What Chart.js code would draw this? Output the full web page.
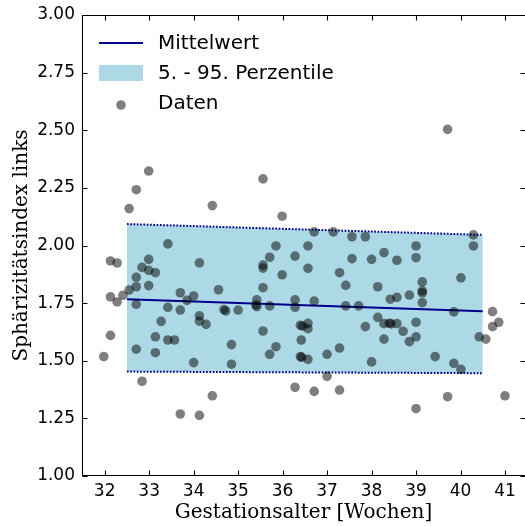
<!DOCTYPE html>
<html>
<head>
<meta charset="utf-8">
<script src="https://cdn.jsdelivr.net/npm/chart.js@4"></script>
<style>
  body { margin: 0; background: #fff; }
  canvas { display: block; }
</style>
</head>
<body>
<canvas id="sphericityChart" width="525" height="526"></canvas>
<script>
// Data
const gestationWeeks = [
    32.99, 32.71, 32.55, 34.42, 33.42, 32.13, 32.28, 32.99, 32.84, 32.99,
    33.14, 34.13, 32.71, 32.71, 32.99, 32.55, 32.41, 32.13, 32.28, 32.71,
    33.70, 33.85, 34.00, 34.56, 33.42, 33.70, 34.13, 34.13, 34.28, 34.68,
    34.72, 33.27, 32.13, 33.14, 33.42, 33.57, 32.71, 33.14, 31.98, 34.00,
    34.85, 34.85, 32.84, 34.42, 33.70, 34.13,
    35.56, 35.99, 36.71, 37.14, 37.56, 37.86, 35.85, 36.57, 35.71, 36.28,
    37.56, 38.00, 35.56, 35.56, 36.57, 35.99, 37.28, 37.42, 35.56, 35.42,
    35.42, 35.40, 35.71, 36.28, 36.28, 36.71, 37.42, 37.71, 35.00, 35.56,
    36.40, 36.45, 36.57, 36.57, 36.42, 37.86, 35.85, 35.71, 37.28, 37.00,
    36.40, 36.43, 36.57, 37.00, 36.28, 36.71, 37.28, 38.00,
    39.71, 40.29, 40.29, 39.00, 39.00, 38.28, 38.57, 40.01, 38.14, 39.14,
    39.14, 39.14, 39.14, 38.85, 38.42, 38.57, 39.85, 40.72, 40.86, 40.72,
    38.14, 38.28, 38.40, 38.44, 38.57, 39.00, 38.71, 39.00, 38.85, 38.28,
    40.42, 40.57, 39.43, 39.85, 40.01, 39.71, 41.00, 39.00
];
const sphericityLeft = [
    2.323, 2.242, 2.160, 2.173, 2.007, 1.933, 1.924, 1.940, 1.905, 1.892,
    1.882, 1.925, 1.862, 1.821, 1.826, 1.807, 1.784, 1.777, 1.755, 1.745,
    1.795, 1.762, 1.781, 1.808, 1.732, 1.720, 1.695, 1.672, 1.658, 1.722,
    1.716, 1.671, 1.610, 1.604, 1.590, 1.590, 1.550, 1.535, 1.518, 1.492,
    1.570, 1.485, 1.411, 1.348, 1.269, 1.263,
    2.289, 2.127, 2.059, 2.059, 2.038, 2.038, 1.998, 1.998, 1.949, 1.954,
    1.943, 1.940, 1.915, 1.902, 1.901, 1.873, 1.882, 1.827, 1.817, 1.764,
    1.735, 1.742, 1.738, 1.764, 1.732, 1.759, 1.738, 1.738, 1.720, 1.629,
    1.654, 1.650, 1.662, 1.639, 1.590, 1.648, 1.561, 1.528, 1.555, 1.528,
    1.518, 1.515, 1.506, 1.432, 1.385, 1.367, 1.373, 1.495,
    2.504, 2.046, 1.998, 1.998, 1.947, 1.969, 1.936, 1.860, 1.821, 1.842,
    1.803, 1.795, 1.752, 1.785, 1.767, 1.775, 1.712, 1.713, 1.667, 1.648,
    1.688, 1.661, 1.663, 1.660, 1.661, 1.667, 1.628, 1.604, 1.583, 1.594,
    1.604, 1.594, 1.518, 1.489, 1.463, 1.344, 1.348, 1.292
];

// Mean line and 5th - 95th percentile band (start and end of the fit)
const fitWeeks = [32.5, 40.5];
const meanValues = [1.767, 1.715];
const upperValues = [2.093, 2.046];
const lowerValues = [1.453, 1.446];

const xTicks = [32, 33, 34, 35, 36, 37, 38, 39, 40, 41];
const yTicks = [1.00, 1.25, 1.50, 1.75, 2.00, 2.25, 2.50, 2.75, 3.00];

const legendLabels = ['Mittelwert', '5. - 95. Perzentile', 'Daten'];

const NAVY = '#00008b';
const BAND = '#add8e6';
const DOT = 'rgba(0, 0, 0, 0.5)';

function toPoints(xs, ys) {
    return xs.map((x, i) => ({ x: x, y: ys[i] }));
}

// Frame, inward ticks and legend the way matplotlib draws them
const frameAndLegend = {
    id: 'frameAndLegend',
    afterDraw(chart) {
        const ctx = chart.ctx;
        const area = chart.chartArea;
        const xs = chart.scales.x;
        const ys = chart.scales.y;
        const left = area.left + 0.5;
        const top = area.top + 0.5;
        const bottom = area.bottom - 0.5;
        const right = area.right + 1.5; // right spine sits just past the canvas edge

        ctx.save();
        ctx.strokeStyle = '#000';
        ctx.lineWidth = 1.1;
        ctx.beginPath();
        ctx.moveTo(right, top);
        ctx.lineTo(left, top);
        ctx.lineTo(left, bottom);
        ctx.lineTo(right, bottom);
        ctx.stroke();

        ctx.beginPath();
        xTicks.forEach(v => {
            const px = Math.round(xs.getPixelForValue(v)) + 0.5;
            ctx.moveTo(px, bottom);
            ctx.lineTo(px, bottom - 5);
            ctx.moveTo(px, top);
            ctx.lineTo(px, top + 5);
        });
        yTicks.forEach(v => {
            const py = Math.round(ys.getPixelForValue(v)) + 0.5;
            ctx.moveTo(left, py);
            ctx.lineTo(left + 5, py);
            ctx.moveTo(right, py);
            ctx.lineTo(right - 6, py);
        });
        ctx.stroke();

        // legend
        const lx = 99, lw = 44, tx = 158;
        const rows = [43, 73, 103];
        ctx.strokeStyle = NAVY;
        ctx.lineWidth = 2;
        ctx.beginPath();
        ctx.moveTo(lx, rows[0]);
        ctx.lineTo(lx + lw, rows[0]);
        ctx.stroke();

        ctx.fillStyle = BAND;
        ctx.fillRect(lx, rows[1] - 8, lw, 16);

        ctx.fillStyle = DOT;
        ctx.beginPath();
        ctx.arc(lx + lw / 2, rows[2] + 2, 4.8, 0, Math.PI * 2);
        ctx.fill();

        ctx.fillStyle = '#000';
        ctx.font = '20px "DejaVu Sans"';
        ctx.textBaseline = 'middle';
        ctx.textAlign = 'left';
        legendLabels.forEach((label, i) => ctx.fillText(label, tx, rows[i] + 1));
        ctx.restore();
    }
};

function initializeChart() {
    const canvas = document.getElementById('sphericityChart');

    return new Chart(canvas.getContext('2d'), {
        type: 'scatter',
        data: {
            datasets: [
                {
                    type: 'line',
                    label: 'upper',
                    data: toPoints(fitWeeks, upperValues),
                    borderColor: NAVY,
                    borderWidth: 2,
                    borderDash: [1.7, 1.6],
                    backgroundColor: BAND,
                    pointRadius: 0,
                    fill: '+1',
                    order: 4
                },
                {
                    type: 'line',
                    label: 'lower',
                    data: toPoints(fitWeeks, lowerValues),
                    borderColor: NAVY,
                    borderWidth: 2,
                    borderDash: [1.7, 1.6],
                    pointRadius: 0,
                    fill: false,
                    order: 3
                },
                {
                    type: 'line',
                    label: 'Mittelwert',
                    data: toPoints(fitWeeks, meanValues),
                    borderColor: NAVY,
                    borderWidth: 2,
                    pointRadius: 0,
                    fill: false,
                    order: 2
                },
                {
                    label: 'Daten',
                    data: toPoints(gestationWeeks, sphericityLeft),
                    backgroundColor: DOT,
                    borderWidth: 0,
                    pointRadius: 4.8,
                    order: 1
                }
            ]
        },
        options: {
            responsive: false,
            animation: false,
            devicePixelRatio: 1,
            layout: { autoPadding: false, padding: { top: 15, right: 0, left: 0, bottom: 0 } },
            plugins: {
                legend: { display: false },
                tooltip: { enabled: false }
            },
            scales: {
                x: {
                    type: 'linear',
                    min: 31.49,
                    max: 41.45,
                    afterBuildTicks: scale => { scale.ticks = xTicks.map(v => ({ value: v })); },
                    afterFit: scale => {
                        scale.height = 50;
                        scale.paddingLeft = 0;
                        scale.paddingRight = 0;
                    },
                    grid: { display: false, drawTicks: false },
                    border: { display: false },
                    ticks: {
                        color: '#000',
                        padding: 5,
                        font: { family: 'DejaVu Sans', size: 17 },
                        maxRotation: 0,
                        callback: v => String(v)
                    },
                    title: {
                        display: true,
                        text: 'Gestationsalter [Wochen]',
                        color: '#000',
                        font: { family: 'DejaVu Serif', size: 20 },
                        padding: { top: 0, bottom: 1 }
                    }
                },
                y: {
                    type: 'linear',
                    min: 1,
                    max: 3,
                    afterBuildTicks: scale => { scale.ticks = yTicks.map(v => ({ value: v })); },
                    afterFit: scale => {
                        scale.width = 82;
                        scale.paddingTop = 0;
                        scale.paddingBottom = 0;
                    },
                    grid: { display: false, drawTicks: false },
                    border: { display: false },
                    ticks: {
                        color: '#000',
                        padding: 7,
                        font: { family: 'DejaVu Sans', size: 17 },
                        callback: v => v.toFixed(2)
                    },
                    title: {
                        display: true,
                        text: 'Sphärizitätsindex links',
                        color: '#000',
                        font: { family: 'DejaVu Serif', size: 20 },
                        padding: { top: 10, bottom: 0 }
                    }
                }
            }
        },
        plugins: [frameAndLegend]
    });
}

document.addEventListener('DOMContentLoaded', initializeChart);
</script>
</body>
</html>
